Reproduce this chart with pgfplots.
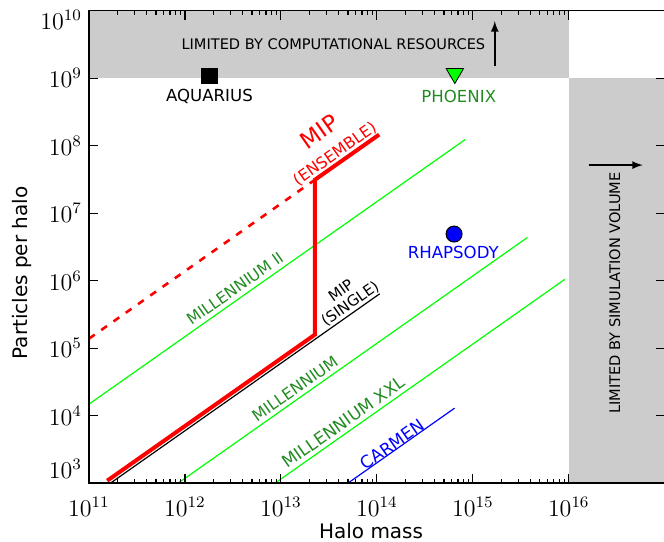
\documentclass[border=0pt]{standalone}
\usepackage{fontspec}
\setmainfont{DejaVu Sans}
\usepackage{pgfplots}
\pgfplotsset{compat=1.18}
\definecolor{shade}{RGB}{204,204,204}
\definecolor{dkgreen}{RGB}{34,139,34}
\definecolor{ltgreen}{RGB}{0,255,0}
\begin{document}
\begin{tikzpicture}
\begin{axis}[name=ax,
  scale only axis, width=288pt, height=236.3pt,
  xmode=log, ymode=log,
  xmin=1e11, xmax=1e17, ymin=1e3, ymax=1e10,
  xtick={1e11,1e12,1e13,1e14,1e15,1e16},
  ytick={1e3,1e4,1e5,1e6,1e7,1e8,1e9,1e10},
  yticklabels={\raisebox{7pt}[\height][\depth]{$10^{3}$},$10^{4}$,$10^{5}$,$10^{6}$,$10^{7}$,$10^{8}$,$10^{9}$,\raisebox{-4.5pt}[\height][\depth]{$10^{10}$}},
  yminorticks=false,
  tick align=inside,
  major tick length=4.5pt, minor tick length=2pt,
  every tick/.style={black, line width=0.6pt},
  axis line style={line width=0.6pt},
  tick label style={font=\fontsize{12}{14}\selectfont},
  xticklabel style={yshift=-3.5pt},
  xlabel={Halo mass}, ylabel={Particles per halo},
  label style={font=\fontsize{10}{12}\selectfont},
  xlabel style={at={(axis description cs:0.49,-0.102)},anchor=center},
  ylabel style={at={(axis description cs:-0.1163,0.445)},anchor=center},
  axis on top,
  clip=true,
]
% grey limit regions
\addplot[fill=shade, draw=none] coordinates {(1e11,1e9) (1e16,1e9) (1e16,1e10) (1e11,1e10)} -- cycle;
\addplot[fill=shade, draw=none] coordinates {(1e16,1e3) (1e17,1e3) (1e17,1e9) (1e16,1e9)} -- cycle;
% simulation lines
\addplot[ltgreen, line width=0.6pt] coordinates {(1e11,1.479e4) (8.318e14,1.230e8)};
\addplot[ltgreen, line width=0.6pt] coordinates {(8.511e11,1000) (3.715e15,4.365e6)};
\addplot[ltgreen, line width=0.6pt] coordinates {(8.710e12,1000) (9.120e15,1.047e6)};
\addplot[blue, line width=0.6pt] coordinates {(5.012e13,1000) (6.457e14,1.288e4)};
\addplot[black, line width=0.6pt] coordinates {(1.679e11,1000) (1.0715e14,6.383e5)};
\addplot[red, line width=1.3pt, dash pattern=on 3.5pt off 4pt] coordinates {(1e11,1.38e5) (2.259e13,3.119e7)};
\addplot[red, line width=2pt, line join=miter] coordinates {(1.549e11,1084) (2.259e13,1.581e5) (2.259e13,3.119e7) (1.057e14,1.459e8)};
% individual simulations
\addplot[only marks, mark=square*, mark size=3.9pt, mark options={fill=black, draw=black}] coordinates {(1.8e12,1.08e9)};
\addplot[only marks, mark=triangle*, mark size=5pt, mark options={rotate=180, fill=ltgreen, draw=black, line width=0.4pt}] coordinates {(6.5e14,1.17e9)};
\addplot[only marks, mark=*, mark size=4pt, mark options={fill=blue, draw=black, line width=0.5pt}] coordinates {(6.38e14,4.9e6)};
% annotations
\node[font=\fontsize{7.3}{9}\selectfont] at (axis cs:3.524e13,3.184e9) {LIMITED BY COMPUTATIONAL RESOURCES};
\draw[-latex, line width=0.8pt] (axis cs:1.694e15,1.503e9) -- (axis cs:1.694e15,7.0e9);
\draw[-latex, line width=0.8pt] (axis cs:1.614e16,5.152e7) -- (axis cs:5.902e16,5.152e7);
\node[font=\fontsize{7.3}{9}\selectfont, rotate=90] at (axis cs:3.013e16,6.546e5) {LIMITED BY SIMULATION VOLUME};
\node[font=\fontsize{8.3}{10}\selectfont] at (axis cs:1.8e12,5.383e8) {AQUARIUS};
\node[font=\fontsize{8.3}{10}\selectfont, text=dkgreen] at (axis cs:7.145e14,5.383e8) {PHOENIX};
\node[font=\fontsize{8.3}{10}\selectfont, text=blue] at (axis cs:6.266e14,2.636e6) {RHAPSODY};
\node[font=\fontsize{7.9}{10}\selectfont, text=dkgreen, rotate=35.07] at (axis cs:3.319e12,7.638e5) {MILLENNIUM II};
\node[font=\fontsize{8}{10}\selectfont, text=dkgreen, rotate=35.07] at (axis cs:1.4e13,2.512e4) {MILLENNIUM};
\node[font=\fontsize{8.5}{10}\selectfont, text=dkgreen, rotate=35.07] at (axis cs:4.5e13,8000) {MILLENNIUM XXL};
\node[font=\fontsize{8.5}{10}\selectfont, text=blue, rotate=35.07] at (axis cs:1.45e14,3750) {CARMEN};
\node[font=\fontsize{7.5}{8}\selectfont, rotate=35.07, align=center, inner sep=0pt] at (axis cs:4.753e13,5.623e5) {MIP\\(SINGLE)};
\node[text=red, rotate=35.07, align=center, inner sep=1pt, anchor=south] at (axis cs:4.17e13,5.75e7) {{\fontsize{11.5}{11}\selectfont MIP}\\{\fontsize{7.9}{9}\selectfont (ENSEMBLE)}};
\end{axis}
\pgfresetboundingbox
\path[use as bounding box] ([shift={(-44.5pt,-29.35pt)}]ax.south west) rectangle ([shift={(-0.35pt,5.35pt)}]ax.north east);
\end{tikzpicture}
\end{document}
